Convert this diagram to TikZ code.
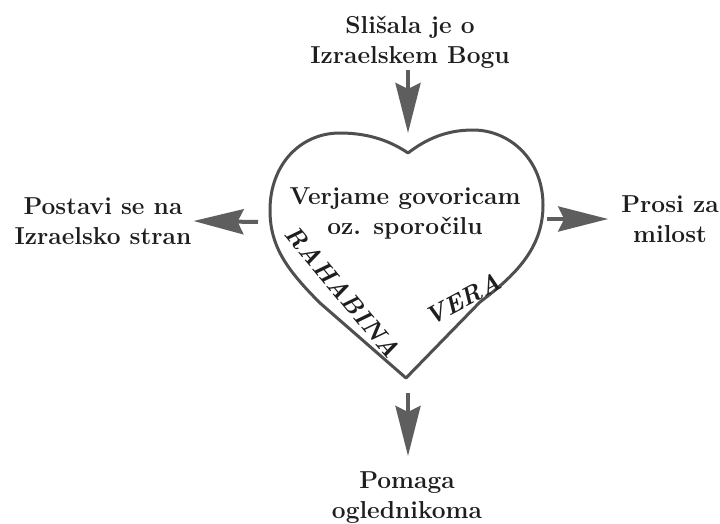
\documentclass[tikz,border=0pt]{standalone}
\usepackage{fontspec}
\usepackage{graphicx}
\usepackage{xcolor}
\usepackage{tikz}
\usetikzlibrary{arrows.meta, positioning, calc}

\definecolor{heartgray}{HTML}{4F4F4F}
\definecolor{arrowgray}{HTML}{5E5E5E}
\definecolor{ink}{HTML}{1E1E1E}

\begin{document}
\begin{tikzpicture}[
  x=1pt, y=-1pt,
  lbl/.style={font=\fontsize{24.5}{30}\selectfont\bfseries, text=ink, align=center, inner sep=2pt},
  slant/.style={font=\fontsize{25}{30}\selectfont\itshape\bfseries, text=ink, inner sep=0pt},
  heart/.style={draw=heartgray, line width=3pt, line join=round},
  arr/.style={draw=arrowgray, line width=4pt, -{Stealth[length=50pt, width=25pt, inset=6pt, fill=arrowgray]}},
]
  \useasboundingbox (0,0) rectangle (720,524);
  \fill[white] (0,0) rectangle (720,524);

  % Labels around the heart
  \node[lbl] (slisala) at (410, 42) {Sli\v{s}ala je o\\Izraelskem Bogu};
  \node[lbl] (postavi) at (103, 221) {Postavi se na\\Izraelsko stran};
  \node[lbl] (prosi) at (670, 219) {Prosi za\\milost};
  \node[lbl] (pomaga) at (407, 498) {Pomaga\\oglednikoma};

  % Heart
  \coordinate (dip) at (408, 153);
  \coordinate (tip) at (406, 378);
  \draw[heart] (tip) -- (320, 303)
    .. controls (285, 268) and (270, 245) .. (270, 210)
    .. controls (270, 165) and (300, 133) .. (340, 133)
    .. controls (370, 133) and (392, 142) .. (dip)
    .. controls (425, 140) and (445, 130) .. (473, 130)
    .. controls (510, 130) and (543, 160) .. (543, 205)
    .. controls (543, 245) and (520, 272) .. (480, 302) -- cycle;

  % Text inside the heart
  \node[lbl] (verjame) at (405, 213) {Verjame govoricam\\oz. sporo\v{c}ilu};
  \node[slant, rotate=-50] (rahabina) at (343, 292) {RAHABINA};
  \node[slant, rotate=28] (vera) at (463, 299) {VERA};

  % Arrow ends at the heart
  \coordinate (topin) at (408, 133);
  \coordinate (lout) at (258, 222);
  \coordinate (rout) at (547, 219);
  \coordinate (bout) at (408, 393);

  % Arrows
  \draw[arr] (slisala.south -| dip) -- (topin);
  \draw[arr] (lout) -- (postavi.east);
  \draw[arr, shorten >=11pt] (rout) -- (prosi.west);
  \draw[arr, shorten >=14pt] (bout) -- (pomaga.north -| bout);
\end{tikzpicture}
\end{document}
